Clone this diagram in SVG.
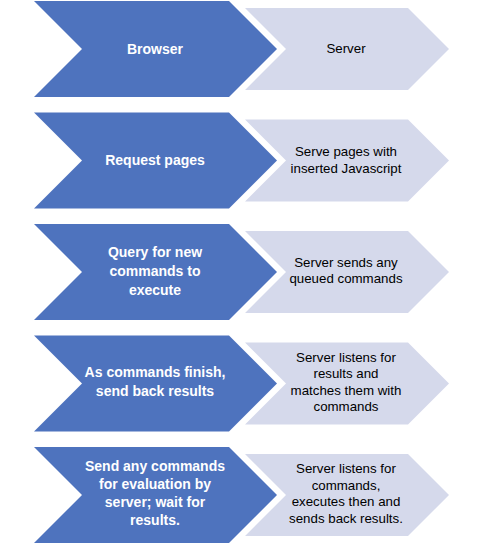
<svg xmlns="http://www.w3.org/2000/svg" width="480" height="544" viewBox="0 0 480 544">
<style>
.blue{fill:#4E73BE;}
.light{fill:#D5D9EB;}
.bt{font-family:"Liberation Sans",Arial,sans-serif;font-size:14px;font-weight:bold;fill:#FFFFFF;text-anchor:middle;}
.lt{font-family:"Liberation Sans",Arial,sans-serif;font-size:13.3px;fill:#000000;text-anchor:middle;}
</style>
<defs>
<polygon id="bchev" points="34,0 229,0 277,48 229,96 34,96 82,48"/>
<polygon id="lchev" points="245,7 408,7 449,48 408,89 245,89 286,48"/>
</defs>
<rect width="480" height="544" fill="#FFFFFF"/>
<g id="connectors"/>
<g id="browser">
<use href="#bchev" class="blue" transform="translate(0,1)"/>
<text class="bt" x="155" y="53.5">Browser</text>
</g>
<g id="server">
<use href="#lchev" class="light" transform="translate(0,1)"/>
<text class="lt" x="346" y="53.3">Server</text>
</g>
<g id="request-pages">
<use href="#bchev" class="blue" transform="translate(0,112.5)"/>
<text class="bt" x="155" y="165">Request pages</text>
</g>
<g id="serve-pages">
<use href="#lchev" class="light" transform="translate(0,112.5)"/>
<text class="lt" x="346" y="155.7">Serve pages with</text>
<text class="lt" x="346" y="172.7">inserted Javascript</text>
</g>
<g id="query-commands">
<use href="#bchev" class="blue" transform="translate(0,224)"/>
<text class="bt" x="155" y="257">Query for new</text>
<text class="bt" x="155" y="276">commands to</text>
<text class="bt" x="155" y="294.5">execute</text>
</g>
<g id="server-sends">
<use href="#lchev" class="light" transform="translate(0,224)"/>
<text class="lt" x="346" y="266.7">Server sends any</text>
<text class="lt" x="346" y="283.3">queued commands</text>
</g>
<g id="send-results">
<use href="#bchev" class="blue" transform="translate(0,335.5)"/>
<text class="bt" x="155" y="377">As commands finish,</text>
<text class="bt" x="155" y="396">send back results</text>
</g>
<g id="server-listens-results">
<use href="#lchev" class="light" transform="translate(0,335.5)"/>
<text class="lt" x="346" y="361.5">Server listens for</text>
<text class="lt" x="346" y="378">results and</text>
<text class="lt" x="346" y="394.5">matches them with</text>
<text class="lt" x="346" y="411">commands</text>
</g>
<g id="send-evaluation">
<use href="#bchev" class="blue" transform="translate(0,447)"/>
<text class="bt" x="155" y="470.7">Send any commands</text>
<text class="bt" x="155" y="489">for evaluation by</text>
<text class="bt" x="155" y="507">server; wait for</text>
<text class="bt" x="155" y="525">results.</text>
</g>
<g id="server-listens-commands">
<use href="#lchev" class="light" transform="translate(0,447)"/>
<text class="lt" x="346" y="473">Server listens for</text>
<text class="lt" x="346" y="489.5">commands,</text>
<text class="lt" x="346" y="506">executes then and</text>
<text class="lt" x="346" y="522.5">sends back results.</text>
</g>
</svg>
